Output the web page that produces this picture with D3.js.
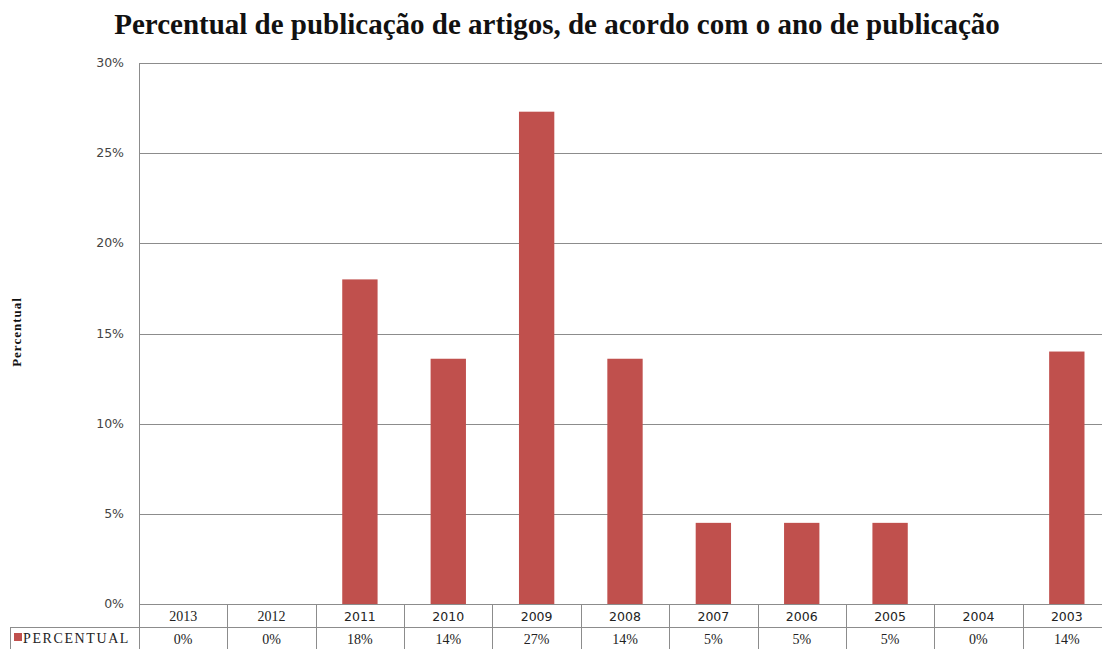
<!DOCTYPE html>
<html><head><meta charset="utf-8">
<script src="https://cdn.jsdelivr.net/npm/d3@7"></script>
<style>body{margin:0;background:#fff}svg{display:block}</style>
</head><body><svg id="c" width="1102" height="649"></svg>
<script>
const years = ["2013","2012","2011","2010","2009","2008","2007","2006","2005","2004","2003"];
const values = [0, 0, 18.0, 13.6, 27.3, 13.6, 4.5, 4.5, 4.5, 0, 14.0];
const tableLabels = ["0%","0%","18%","14%","27%","14%","5%","5%","5%","0%","14%"];
const yTicks = [0, 5, 10, 15, 20, 25, 30];
const seriesName = "PERCENTUAL";
const title = "Percentual de publicação de artigos, de acordo com o ano de publicação";
const yTitle = "Percentual";

const svg = d3.select("#c");
const L = 139, R = 1111, T = 63, B = 604;
const x = d3.scaleBand().domain(years).range([L, R]).padding(0);
const y = d3.scaleLinear().domain([0, 30]).range([B, T]);
const grid = "#8c8c8c";

svg.append("text").attr("x", 557).attr("y", 34).attr("text-anchor", "middle")
  .style("font-family", "'Liberation Serif','Times New Roman',serif").style("font-weight", "bold")
  .style("font-size", "29px").attr("fill", "#111").text(title);

svg.append("text").attr("transform", "translate(21,332) rotate(-90)").attr("text-anchor", "middle")
  .style("font-family", "'Liberation Serif',serif").style("font-weight", "bold").style("font-size", "13px")
  .style("letter-spacing", "1px").attr("fill", "#111").text(yTitle);

// gridlines
svg.append("g").selectAll("line").data(yTicks).join("line")
  .attr("x1", L).attr("x2", R).attr("y1", d => Math.round(y(d)) + 0.5).attr("y2", d => Math.round(y(d)) + 0.5)
  .attr("stroke", grid).attr("stroke-width", 1);

// left axis line
svg.append("line").attr("x1", L + 0.5).attr("x2", L + 0.5).attr("y1", T).attr("y2", 649)
  .attr("stroke", grid);

// y tick labels
svg.append("g").selectAll("text").data(yTicks).join("text")
  .attr("x", 124).attr("y", d => y(d) + 4).attr("text-anchor", "end")
  .style("font-family", "'DejaVu Sans',sans-serif").style("font-size", "12.5px").attr("fill", "#444")
  .text(d => d + "%");

// bars
const bw = x.bandwidth() * 0.4;
svg.append("g").selectAll("rect").data(values).join("rect")
  .attr("x", (d, i) => x(years[i]) + x.bandwidth() / 2 - bw / 2)
  .attr("width", bw)
  .attr("y", d => y(d)).attr("height", d => y(0) - y(d))
  .attr("fill", "#c0504d");

// table
const rowMid = 627, rowBot = 649;
svg.append("line").attr("x1", 10).attr("x2", R).attr("y1", rowMid + 0.5).attr("y2", rowMid + 0.5).attr("stroke", grid);
svg.append("line").attr("x1", 10.5).attr("x2", 10.5).attr("y1", rowMid).attr("y2", rowBot).attr("stroke", grid);
svg.append("g").selectAll("line").data(years.slice(1)).join("line")
  .attr("x1", d => Math.round(x(d)) + 0.5).attr("x2", d => Math.round(x(d)) + 0.5)
  .attr("y1", B).attr("y2", rowBot).attr("stroke", grid);

svg.append("g").selectAll("text").data(years).join("text")
  .attr("x", d => x(d) + x.bandwidth() / 2).attr("y", 621).attr("text-anchor", "middle")
  .style("font-family", (d, i) => i < 2 ? "'Liberation Serif',serif" : "'DejaVu Sans',sans-serif")
  .style("font-size", (d, i) => i < 2 ? "14px" : "12.5px").attr("fill", "#222").text(d => d);

svg.append("g").selectAll("text").data(tableLabels).join("text")
  .attr("x", (d, i) => x(years[i]) + x.bandwidth() / 2).attr("y", 644).attr("text-anchor", "middle")
  .style("font-family", "'Liberation Serif',serif").style("font-size", "14px").attr("fill", "#222").text(d => d);

svg.append("rect").attr("x", 14).attr("y", 633).attr("width", 8).attr("height", 8).attr("fill", "#c0504d");
svg.append("text").attr("x", 23).attr("y", 643)
  .style("font-family", "'Liberation Serif',serif").style("font-size", "14px").style("letter-spacing", "1.6px")
  .attr("fill", "#222").text(seriesName);
</script></body></html>
